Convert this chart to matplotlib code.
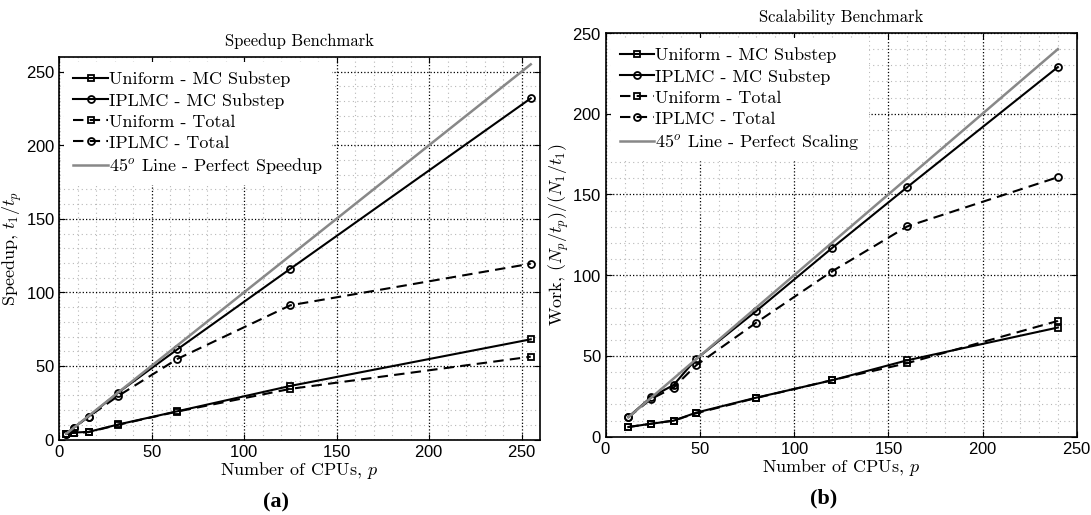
import matplotlib
matplotlib.use('Agg')
import matplotlib.pyplot as plt
from matplotlib.ticker import MultipleLocator

plt.rcParams['mathtext.fontset'] = 'cm'
plt.rcParams['axes.formatter.use_mathtext'] = True

# speedup benchmark (a)
cpus_a = [4, 8, 16, 32, 64, 125, 255]
uni_mc_a = [4.0, 4.7, 5.2, 10.2, 19.2, 36.4, 68.1]
ipl_mc_a = [4.0, 8.1, 15.6, 31.9, 61.3, 116.0, 231.9]
uni_tot_a = [4.0, 4.5, 5.0, 10.0, 19.0, 34.4, 56.3]
ipl_tot_a = [4.0, 8.0, 15.5, 29.6, 54.8, 91.2, 119.5]

# scalability benchmark (b)
cpus_b = [12, 24, 36, 48, 80, 120, 160, 240]
uni_mc_b = [6.0, 8.0, 9.9, 14.9, 24.2, 34.9, 47.3, 67.6]
ipl_mc_b = [12.2, 24.4, 32.0, 48.1, 77.9, 116.7, 154.5, 228.9]
uni_tot_b = [6.0, 8.0, 10.0, 14.5, 24.0, 35.0, 45.5, 71.7]
ipl_tot_b = [12.0, 23.3, 30.4, 44.2, 70.7, 102.3, 130.2, 160.7]

serif = 'cmr10'
W, H = 1091, 515
fig = plt.figure(figsize=(W / 100, H / 100), dpi=100)


def rect(l, t, r, b):
    return [l / W, 1 - b / H, (r - l) / W, (b - t) / H]


def panel(ax, x, umc, imc, utot, itot, lim, title, ylabel, perfect_label):
    mk = dict(markersize=5, markerfacecolor='none', markeredgewidth=1.3)
    ax.plot(x, umc, 'k-s', lw=1.5, label='Uniform - MC Substep', **mk)
    ax.plot(x, imc, 'k-o', lw=1.5, label='IPLMC - MC Substep', **mk)
    ax.plot(x, utot, 'k--s', lw=1.5, dashes=(5, 3), label='Uniform - Total', **mk)
    ax.plot(x, itot, 'k--o', lw=1.5, dashes=(5, 3), label='IPLMC - Total', **mk)
    ax.plot([x[0], x[-1]], [x[0], x[-1]], color='#888888', lw=1.8,
            label=perfect_label)

    ax.set_xlim(0, lim[0])
    ax.set_ylim(0, lim[1])
    ax.xaxis.set_major_locator(MultipleLocator(50))
    ax.yaxis.set_major_locator(MultipleLocator(50))
    ax.xaxis.set_minor_locator(MultipleLocator(10))
    ax.yaxis.set_minor_locator(MultipleLocator(10))
    ax.grid(which='major', color='k', ls=':', lw=0.9)
    ax.grid(which='minor', color='#b8b8b8', ls=(0, (1, 3)), lw=0.8)
    ax.set_axisbelow(True)
    ax.tick_params(which='both', direction='in', top=True, right=True,
                   labelsize=12, pad=3)
    ax.tick_params(which='major', length=4)
    ax.tick_params(which='minor', length=0)
    for lab in ax.get_xticklabels() + ax.get_yticklabels():
        lab.set_family('Liberation Sans')
    for s in ax.spines.values():
        s.set_linewidth(1.2)

    ax.set_title(title, family=serif, fontsize=12, pad=8)
    ax.set_xlabel('Number of CPUs, $p$', family=serif, fontsize=13, labelpad=0)
    ax.set_ylabel(ylabel, family=serif, fontsize=13, labelpad=1)

    leg = ax.legend(loc='upper left', prop={'family': serif, 'size': 13},
                    handlelength=1.9, handletextpad=0.05, labelspacing=0.3,
                    borderaxespad=0.3, borderpad=0.5, fancybox=False,
                    framealpha=1, edgecolor='white')
    leg.get_frame().set_linewidth(0)


ax1 = fig.add_axes(rect(59, 57, 540, 439.5))
panel(ax1, cpus_a, uni_mc_a, ipl_mc_a, uni_tot_a, ipl_tot_a, (260, 260),
      'Speedup Benchmark', 'Speedup, $t_1/t_p$',
      '45$^o$ Line - Perfect Speedup')

ax2 = fig.add_axes(rect(605.7, 33, 1076.7, 436.7))
panel(ax2, cpus_b, uni_mc_b, ipl_mc_b, uni_tot_b, ipl_tot_b, (250, 250),
      'Scalability Benchmark', 'Work, $(N_p/t_p)/(N_1/t_1)$',
      '45$^o$ Line - Perfect Scaling')

fig.text(276 / W, 1 - 502 / H, '(a)', family='Liberation Serif',
         fontweight='bold', fontsize=16, ha='center', va='center')
fig.text(824 / W, 1 - 498.6 / H, '(b)', family='Liberation Serif',
         fontweight='bold', fontsize=16, ha='center', va='center')

fig.savefig('out.png', dpi=100)
